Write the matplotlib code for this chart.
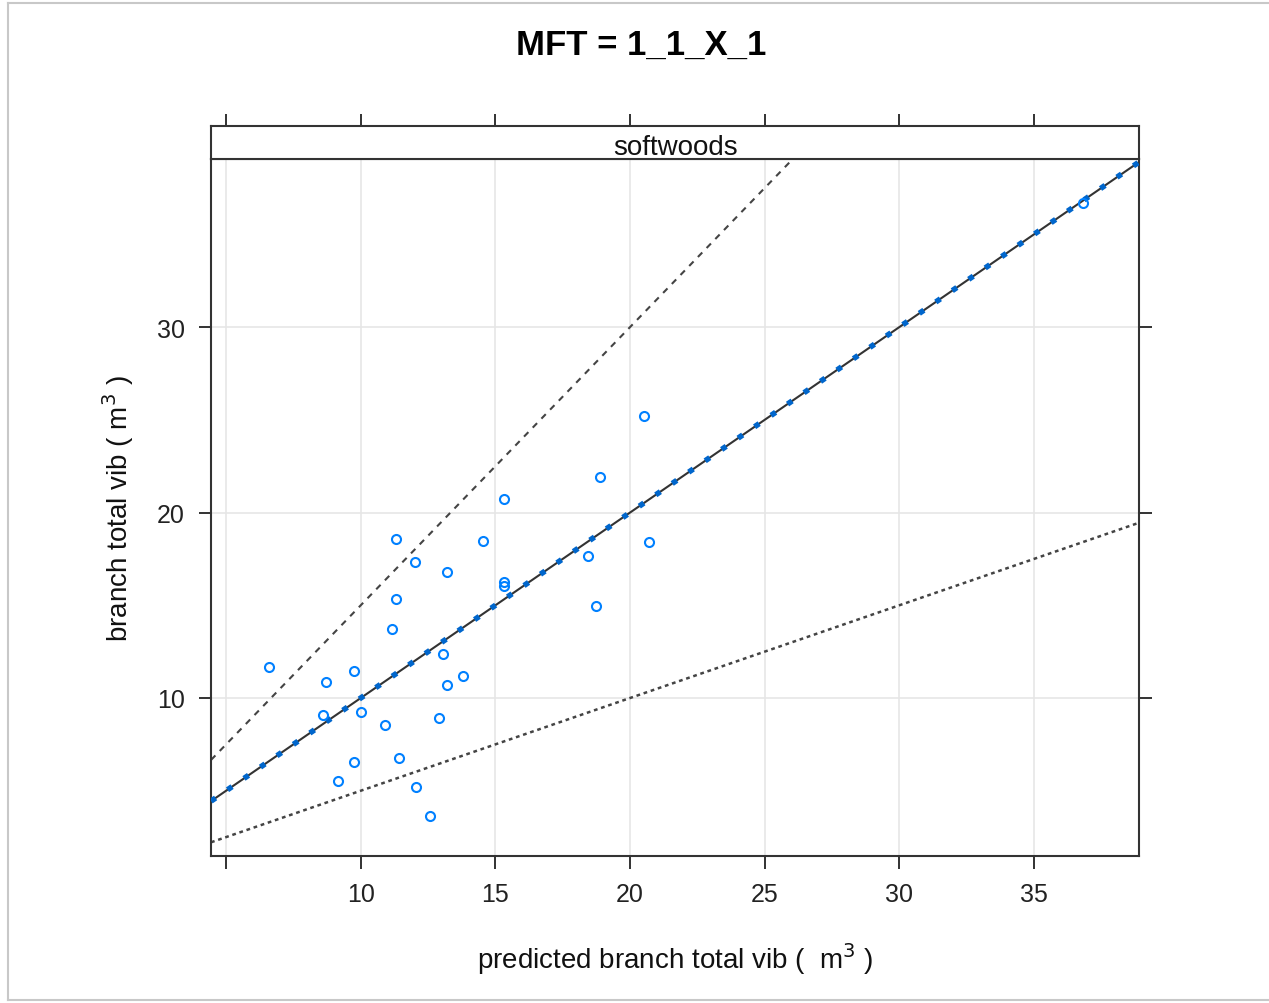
import matplotlib
matplotlib.use("Agg")
import matplotlib.pyplot as plt
from matplotlib.lines import Line2D

plt.rcParams['font.family'] = ['Liberation Sans', 'DejaVu Sans']

# predicted vs observed branch volume (m3)
predicted = [6.6, 8.71, 8.6, 9.16, 9.75, 9.75, 10.01, 10.9, 11.16, 11.31,
             11.31, 11.42, 12.02, 12.06, 12.58, 12.91, 13.06, 13.2, 13.2, 13.8,
             14.54, 15.32, 15.32, 15.32, 18.44, 18.74, 18.89, 20.52, 20.71, 36.82]
observed = [11.67, 10.86, 9.08, 5.53, 11.46, 6.55, 9.25, 8.54, 13.72, 18.57,
            15.34, 6.77, 17.33, 5.2, 3.64, 8.92, 12.37, 16.79, 10.7, 11.19,
            18.46, 20.73, 16.25, 16.04, 17.65, 14.96, 21.91, 25.2, 18.41, 36.68]

x_ticks = [5, 10, 15, 20, 25, 30, 35]
x_labels = ['', '10', '15', '20', '25', '30', '35']
y_ticks = [10, 20, 30]
xlim = (4.44, 38.9)
ylim = (1.48, 39.06)

fig = plt.figure(figsize=(12.69, 10.04), dpi=100)

# marco gris como en la captura
for xs, ys in [([0.006, 0.006], [0.003, 0.996]), ([0.006, 1.0], [0.996, 0.996]),
               ([0.006, 1.0], [0.003, 0.003])]:
    fig.add_artist(Line2D(xs, ys, transform=fig.transFigure, color='#c8c8c8', lw=1.5))

ax = fig.add_axes([0.1663, 0.1464, 0.7313, 0.6942])
strip = fig.add_axes([0.1663, 0.8406, 0.7313, 0.0329], sharex=ax)

ax.set_xlim(*xlim)
ax.set_ylim(*ylim)
ax.grid(True, color='#e6e6e6', lw=1.2)
ax.set_axisbelow(True)

# reference lines: 1:1, +50 %, -50 %
ax.axline((0, 0), slope=1.0, color='#333333', lw=1.5, zorder=2)
ax.axline((0, 0), slope=1.0, color='#0066cc', lw=4.0, dashes=(1.0, 2.6), zorder=3)
ax.axline((0, 0), slope=1.5, color='#444444', lw=1.5, dashes=(3, 3), zorder=2)
ax.axline((0, 0), slope=0.5, color='#444444', lw=1.8, dashes=(1.5, 1.5), zorder=2)

ax.plot(predicted, observed, 'o', mfc='none', mec='#0080ff', ms=6.5, mew=1.5, zorder=4)

ax.set_xticks(x_ticks)
ax.set_xticklabels(x_labels)
ax.set_yticks(y_ticks)
ax.tick_params(direction='out', length=9, width=1.3, labelsize=18, colors='#222222',
               right=True, left=True, bottom=True, top=False, pad=10)
ax.tick_params(axis='y', labelright=False, pad=10)
for s in ax.spines.values():
    s.set_color('#333333')
    s.set_linewidth(1.5)

strip.set_facecolor('white')
strip.tick_params(axis='x', direction='out', length=9, width=1.3, top=True, bottom=False,
                  labelbottom=False, labeltop=False, colors='#222222')
strip.set_yticks([])
for s in strip.spines.values():
    s.set_color('#333333')
    s.set_linewidth(1.5)
strip.text(0.5, 0.36, 'softwoods', transform=strip.transAxes, ha='center', va='center',
           fontsize=20, color='#111111')

ax.set_xlabel('predicted branch total vib (  m$^3$ )', fontsize=20, labelpad=24, color='#111111')
ax.set_ylabel('branch total vib ( m$^3$ )', fontsize=20, labelpad=15, color='#111111')

fig.text(0.505, 0.955, 'MFT = 1_1_X_1', ha='center', va='center', fontsize=25,
         fontweight='bold', color='black')

fig.savefig('out.png', dpi=100)
